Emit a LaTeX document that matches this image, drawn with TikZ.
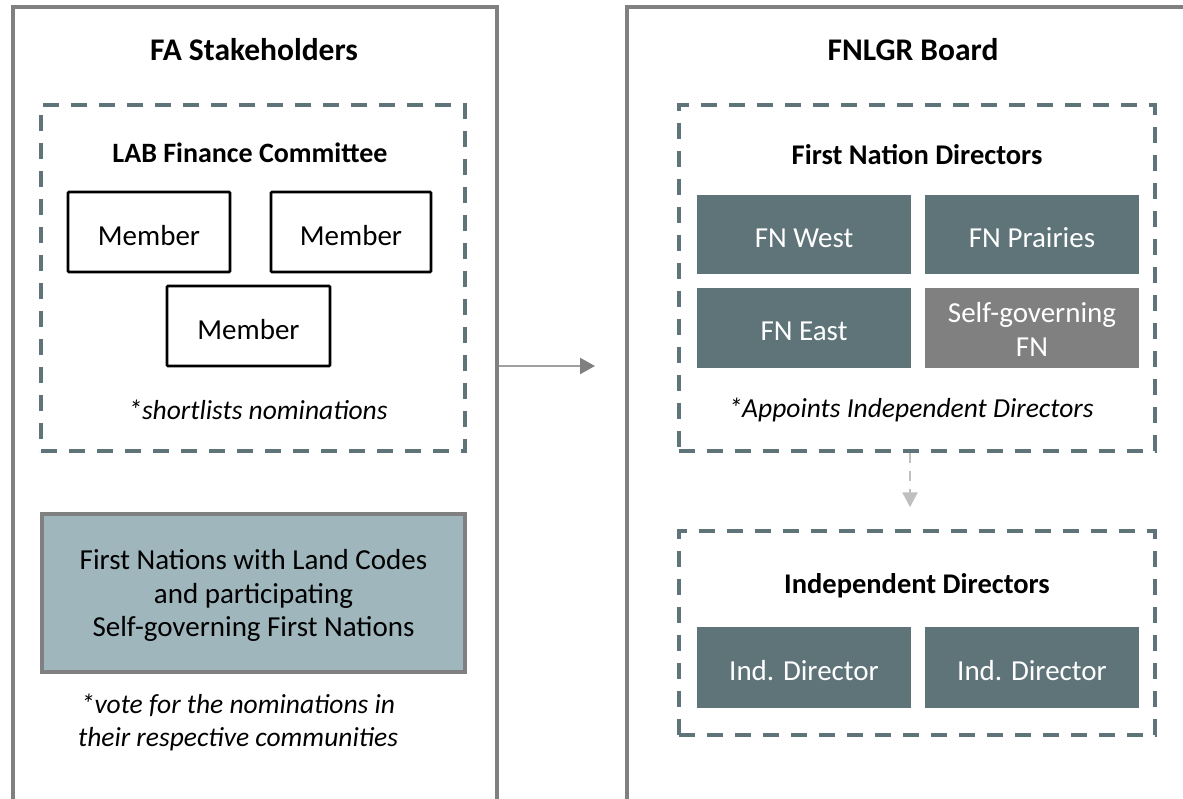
\documentclass[tikz,border=0pt]{standalone}
\usepackage{fontspec}
\setmainfont{Carlito}
\usetikzlibrary{arrows.meta}

\definecolor{slate}{HTML}{5E7479}
\definecolor{panelgray}{HTML}{808080}
\definecolor{bluegray}{HTML}{9FB6BD}
\definecolor{arrowgray}{HTML}{A0A0A0}
\definecolor{lightarrow}{HTML}{BFBFBF}

% box text sits a little below the geometric centre of its box
\newcommand{\lowtext}[2][-6.5pt]{\raisebox{#1}[\height][\depth]{\begin{tabular}{@{}c@{}}#2\end{tabular}}}

\tikzset{
  panel/.style={draw=panelgray, line width=3.5pt, inner sep=0pt},
  group/.style={draw=slate, line width=3.5pt, dash pattern=on 16pt off 12pt, inner sep=0pt},
  memberbox/.style={draw=black, line width=2.6pt, rounded corners=1pt, inner sep=0pt,
    minimum height=80pt, font=\fontsize{29}{34}\selectfont},
  fnbox/.style={fill=slate, text=white, inner sep=0pt, minimum width=214pt,
    minimum height=80pt, font=\fontsize{29}{34}\selectfont},
  title/.style={font=\fontsize{31.5}{36}\selectfont\bfseries, inner sep=0pt},
  subtitle/.style={font=\fontsize{28.5}{33}\selectfont\bfseries, inner sep=0pt},
  note/.style={font=\fontsize{27.5}{33}\selectfont\itshape, inner sep=0pt, align=center},
}

\begin{document}
\begin{tikzpicture}[x=1pt, y=-1pt]
\useasboundingbox (0,0) rectangle (1183,798);
\clip (0,0) rectangle (1183,798);

% outer panels (their lower and right sides run past the page)
\node[panel, minimum width=484pt, minimum height=823pt] (lp) at (255,418.5) {};
\node[panel, minimum width=623pt, minimum height=823pt] (rp) at (938.5,418.5) {};

\node[title] (lpt) at (254,50) {FA Stakeholders};
\node[title] (rpt) at (913,50) {FNLGR Board};

% LAB Finance Committee
\node[group, minimum width=424pt, minimum height=346pt] (lab) at (253,278) {};
\node[subtitle, font=\fontsize{28}{33}\selectfont\bfseries] (labt) at (250,153) {LAB Finance Committee};
\node[memberbox, minimum width=162pt] (m1) at (149,232) {\lowtext{Member}};
\node[memberbox, minimum width=160pt] (m2) at (351,232) {\lowtext{Member}};
\node[memberbox, minimum width=163pt] (m3) at (248.5,326) {\lowtext{Member}};
\node[note] (labn) at (258,410) {*shortlists nominations};

% voting communities
\node[draw=panelgray, line width=3.2pt, fill=bluegray, inner sep=0pt,
  minimum width=423pt, minimum height=158pt,
  font=\fontsize{29}{33.5}\selectfont] (fnc) at (253.5,593)
  {\lowtext[-3.5pt]{First Nations with Land Codes\\and participating\\Self-governing First Nations}};
\node[note] (voten) at (238,722) {*vote for the nominations in\\their respective communities};

% First Nation Directors
\node[group, minimum width=476pt, minimum height=346pt] (fnd) at (917,278) {};
\node[subtitle] (fndt) at (917,155) {First Nation Directors};
\node[fnbox, minimum height=79pt] (fnw) at (804,234.5) {\lowtext{FN West}};
\node[fnbox, minimum height=79pt] (fnp) at (1032,234.5) {\lowtext{FN Prairies}};
\node[fnbox] (fne) at (804,327.5) {\lowtext{FN East}};
\node[fnbox, fill=panelgray] (sgf) at (1032,327.5) {\lowtext[-5.5pt]{Self-governing\\FN}};
\node[note] (fndn) at (911,410) {*Appoints Independent Directors};

% Independent Directors
\node[group, minimum width=476pt, minimum height=204pt] (ind) at (917,633) {};
\node[subtitle] (indt) at (917,586) {Independent Directors};
\node[fnbox, minimum height=81pt] (id1) at (804,667.5) {\lowtext{Ind. Director}};
\node[fnbox, minimum height=81pt] (id2) at (1032,667.5) {\lowtext{Ind. Director}};

% connectors
\coordinate (arrowend) at (595,366);
\draw[arrowgray, line width=2.4pt, -{Triangle[length=15pt, width=16pt, fill=panelgray, color=panelgray]}]
  (lp.east |- arrowend) -- (arrowend);
\draw[lightarrow, line width=2.6pt, dash pattern=on 10pt off 8pt,
  -{Triangle[length=15pt, width=15pt, sep=0pt]}, shorten >=22pt]
  ([xshift=-7pt]fnd.south) -- ([xshift=-7pt]ind.north);
\end{tikzpicture}
\end{document}
